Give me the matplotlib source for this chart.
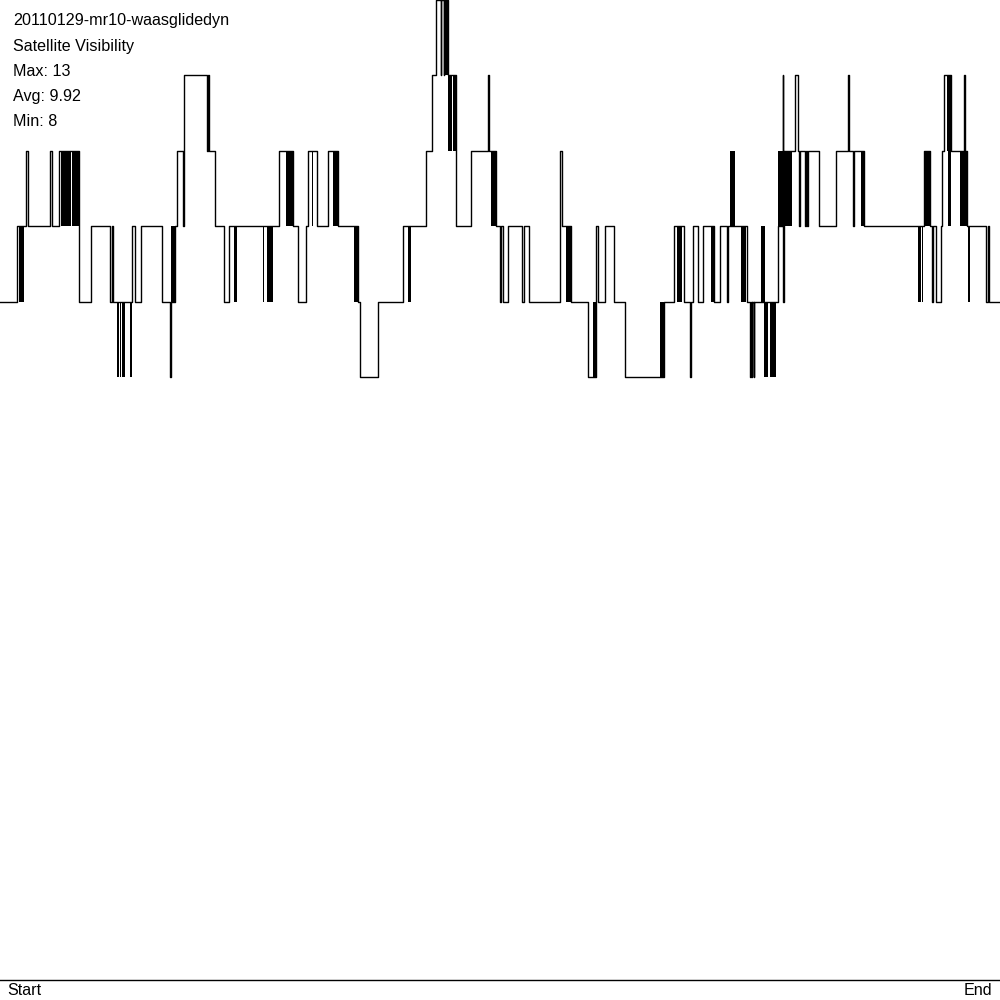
import matplotlib
matplotlib.use("Agg")
import matplotlib.pyplot as plt

plt.rcParams['font.family'] = ['Liberation Sans', 'DejaVu Sans']

track_name = '20110129-mr10-waasglidedyn'
title = 'Satellite Visibility'
sat_max = 13
sat_avg = 9.92
sat_min = 8

# epoch index (0..1000 over the track) where the visible satellite count changes
epoch = [0, 17, 26, 27.5, 50, 52, 59, 79, 91, 110, 111.5, 113, 132, 135, 141, 162, 170, 170.7,
         175, 177, 183, 184, 207, 208, 209, 215, 224, 228.5, 262, 273, 279, 293, 298, 306, 308,
         317, 328, 337.5, 358, 359.5, 377.5, 403, 426, 432, 436, 440.5, 441.3, 443.5, 444.2,
         447.5, 455.7, 456, 471, 488, 488.8, 496, 500, 500.7, 503, 508, 522, 523.5, 528.5, 560,
         562, 571, 587.5, 595.8, 598.3, 605, 614.3, 625, 664, 674.3, 684, 690, 690.6, 693.3,
         698.3, 703.3, 714, 720.3, 727.3, 727.9, 735, 747, 750, 750.6, 751.5, 752, 753.7, 754.3,
         776, 778, 782.5, 783.2, 783.8, 791.7, 795.3, 797.7, 799.3, 800, 805, 805.5, 807.3,
         807.8, 819, 835.5, 848.3, 849.3, 853.3, 853.7, 863.5, 923, 923.5, 930, 932.3, 933,
         935.7, 941.3, 942.3, 944.3, 951, 964.3, 965, 967, 970, 986, 988.3, 989.3, 1000]
sats = [9, 10, 11, 10, 11, 10, 11, 9, 10, 9, 10, 9, 10, 9, 10, 9, 8, 9,
        10, 11, 10, 12, 11, 12, 11, 10, 9, 10, 10, 10, 11, 10, 9, 10, 11,
        10, 11, 10, 9, 8, 9, 10, 11, 12, 13, 12, 13, 12, 13,
        12, 11, 10, 11, 12, 11, 10, 9, 10, 9, 10, 9, 10, 9, 11,
        10, 9, 8, 10, 9, 10, 9, 8, 9, 10, 9, 8, 9, 10,
        9, 10, 9, 10, 9, 10, 10, 9, 8, 9, 8, 9, 8, 9,
        9, 10, 12, 9, 11, 11, 12, 11, 10, 11, 10, 11, 10,
        11, 10, 11, 12, 11, 10, 11, 10, 10, 11, 10, 9, 10,
        9, 10, 11, 12, 11, 12, 11, 10, 10, 9, 10, 9, 9]

# stretches where the count flickers quickly between two values (drawn solid)
flicker_start = [19, 61, 72, 117, 120, 122, 129.5, 171, 233.5, 262.5, 266.5, 286, 311.7, 333,
                 354, 408, 445, 448.3, 452.7, 491, 566, 593, 660, 674, 676.7, 711, 730, 741,
                 761, 764, 770, 778, 861, 918, 921.5, 925, 947, 948.3, 960, 967.7]
flicker_end = [24, 71, 79, 118.5, 121, 124.5, 132, 175, 237, 264, 273, 293, 313.3, 337.5,
               358, 410.5, 447.5, 451.7, 455.7, 496, 570.5, 596, 664, 675.3, 681.7, 714, 735, 746,
               764.5, 767.5, 776, 791.7, 863.5, 920.5, 923, 930, 951, 950.7, 967, 970]
flicker_low = [9, 10, 10, 8, 8, 8, 8, 9, 9, 9, 9, 10, 10, 10,
               9, 9, 12, 11, 11, 10, 9, 8, 8, 9, 9, 9, 10, 9,
               9, 8, 8, 10, 10, 9, 9, 10, 11, 10, 10, 9]
flicker_high = [10, 11, 11, 9, 9, 9, 9, 10, 10, 10, 10, 11, 11, 11,
                10, 10, 13, 12, 12, 11, 10, 9, 9, 10, 10, 10, 11, 10,
                10, 9, 9, 11, 11, 10, 10, 11, 12, 11, 11, 10]

fig = plt.figure(figsize=(10, 10), dpi=100)
ax = fig.add_axes([0, 0.02, 1, 0.98])
ax.set_xlim(0, 1000)
ax.set_ylim(0, 13)
ax.axis('off')

ax.step(epoch, sats, where='post', color='black', lw=1.0, clip_on=False)
for t0, t1, lo, hi in zip(flicker_start, flicker_end, flicker_low, flicker_high):
    ax.fill_between([t0, t1], lo, hi, color='black', lw=0)

# time axis baseline
ax.axhline(0, color='black', lw=1.0, clip_on=False)

info = [track_name, title, f'Max: {sat_max}', f'Avg: {sat_avg}', f'Min: {sat_min}']
for i, line in enumerate(info):
    fig.text(0.013, 1 - (0.021 + i * 0.025), line, fontsize=11.6, va='center', ha='left')

fig.text(0.007, 0.0095, 'Start', fontsize=11.6, va='center', ha='left')
fig.text(0.992, 0.0095, 'End', fontsize=11.6, va='center', ha='right')

fig.savefig('out.png', dpi=100, facecolor='white')
